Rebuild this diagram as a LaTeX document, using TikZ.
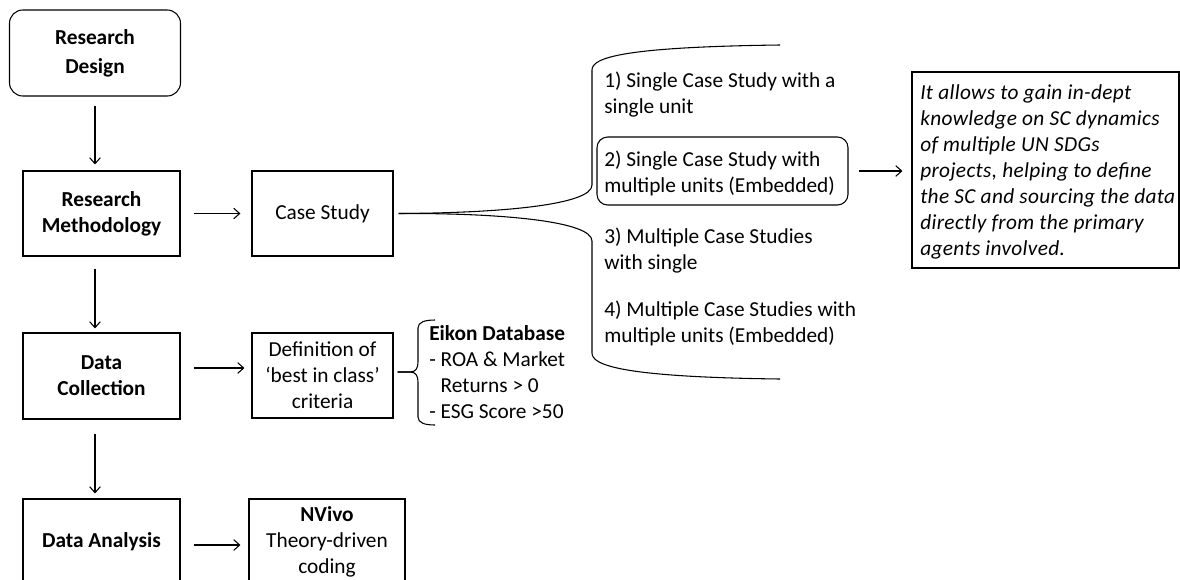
\documentclass[tikz,border=0pt]{standalone}
\usepackage{fontspec}
\setmainfont{Carlito}
\newfontfamily\itfont{Carlito}[LetterSpace=1.6]
\usetikzlibrary{arrows.meta,calc}
\begin{document}
\begin{tikzpicture}[x=0.75pt,y=-0.75pt,
  every node/.style={font=\fontsize{16pt}{19.5pt}\selectfont},
  box/.style={draw, line width=0.8pt, align=center, inner sep=0pt},
  arr/.style={-{Straight Barb[length=4.5pt,width=8pt]}, line width=0.8pt},
  brace/.style={line width=0.8pt},
  ttl/.style={font=\fontsize{16pt}{19.5pt}\selectfont\bfseries},
  item/.style={anchor=base west, align=left, inner sep=0pt}
]
\useasboundingbox (0,0) rectangle (1180,579);
% left column
\node[box, font=\fontsize{16pt}{22pt}\selectfont\bfseries, rounded corners=10pt, minimum width=128.25pt, minimum height=64.5pt] (RD) at (95,53) {Research\\Design};
\node[box, ttl, minimum width=117.75pt, minimum height=63.75pt] (RM) at (101.5,213.5) {Research\\Methodology};
\node[box, ttl, minimum width=117.75pt, minimum height=64.5pt] (DC) at (101.5,376) {Data\\Collection};
\node[box, ttl, minimum width=117.75pt, minimum height=64.5pt] (DA) at (101.5,542) {Data Analysis};
% second column
\node[box, minimum width=105.75pt, minimum height=63.75pt] (CS) at (322.5,213.5) {Case Study};
\node[box, minimum width=105.75pt, minimum height=63.75pt] (Def) at (322.5,375.5) {Definition of\\‘best in class’\\criteria};
\node[box, minimum width=117pt, minimum height=64.5pt] (NV) at (327,542) {\textbf{NVivo}\\Theory-driven\\coding};
% vertical arrows
\draw[arr, shorten <=6.75pt, shorten >=4.5pt] (RD.south) -- (RD.south |- RM.north);
\draw[arr, shorten <=9pt, shorten >=3pt] (RD.south |- RM.south) -- (RD.south |- DC.north);
\draw[arr, shorten <=10.5pt, shorten >=3.75pt] (RD.south |- DC.south) -- (RD.south |- DA.north);
% horizontal arrows
\draw[arr, shorten <=9.75pt, shorten >=8.25pt] (RM.east) -- (CS.west);
\draw[arr, shorten <=9.75pt, shorten >=5.25pt] ($(DC.east)+(0,-8)$) -- ($(Def.west)+(0,-7.5)$);
\draw[arr, shorten <=9.75pt, shorten >=6pt] ($(DA.east)+(0,3)$) -- ($(NV.west)+(0,3)$);
% options (anchor base = baseline of last line)
\node[item] (i1) at (604,113) {1) Single Case Study with a\\single unit};
\node[draw, line width=0.8pt, rounded corners=8pt, inner sep=0pt, minimum width=188.25pt, minimum height=51pt] (i2) at (722.5,171) {};
\node[item] (i2t) at (604,192) {2) Single Case Study with\\multiple units (Embedded)};
\node[item] (i3) at (604,269) {3) Multiple Case Studies\\with single};
\node[item] (i4) at (604,342) {4) Multiple Case Studies with\\multiple units (Embedded)};
% italic box
\node[draw, line width=0.8pt, inner sep=0pt, minimum width=200.25pt, minimum height=147pt] (IT) at (1045.5,170) {};
\node[item, font=\fontsize{16pt}{19.5pt}\selectfont\itfont\itshape] (ITt) at (920,255) {It allows to gain in-dept\\knowledge on SC dynamics\\of multiple UN SDGs\\projects, helping to define\\the SC and sourcing the data\\directly from the primary\\agents involved.};
\draw[arr, shorten <=7.5pt, shorten >=6.75pt] (i2.east) -- (IT.west |- i2.east);
% big brace
\coordinate (bt) at (780,45);
\coordinate (bb) at (780,379);
\draw[brace] ([xshift=3.75pt]CS.east) .. controls (500,213) and (592,205) .. (592,185) -- (592,70) .. controls (592,58) and (620,47) .. (bt);
\draw[brace] ([xshift=3.75pt]CS.east) .. controls (500,213) and (592,221) .. (592,241) -- (592,353) .. controls (592,365) and (620,377) .. (bb);
% small brace
\coordinate (st) at (435,320);
\coordinate (sb) at (435,425);
\draw[brace] ($(Def.east)+(4,-3.5)$) -- (410,372) .. controls (416,372) and (418,368) .. (418,362) -- (418,328) .. controls (418,322) and (425,320) .. (st);
\draw[brace] ($(Def.east)+(4,-3.5)$) -- (410,372) .. controls (416,372) and (418,376) .. (418,382) -- (418,417) .. controls (418,423) and (425,425) .. (sb);
\node[item] (ek) at (429,418) {\textbf{Eikon Database}\\- ROA \& Market\\\phantom{- }Returns > 0\\- ESG Score >50};
\end{tikzpicture}
\end{document}
